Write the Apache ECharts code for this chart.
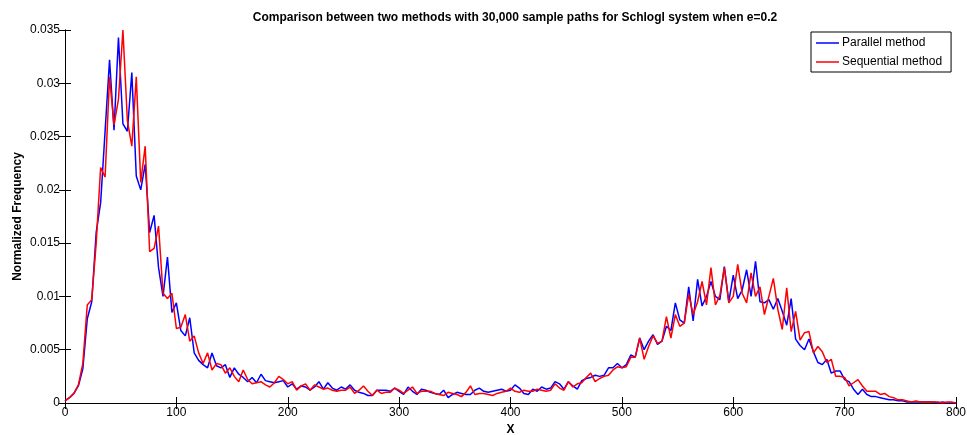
<!DOCTYPE html>
<html>
<head>
<meta charset="utf-8">
<script src="https://cdn.jsdelivr.net/npm/echarts@6/dist/echarts.min.js"></script>
<style>
  html, body { margin: 0; padding: 0; background: #fff; }
  #chart { width: 967px; height: 435px; }
</style>
</head>
<body>
<div id="chart"></div>
<script>
// Histogram bins: X = 0, 4, 8, ..., 800
const binStart = 0;
const binWidth = 4;

// Normalized frequency per bin, parallel method (blue)
const parallelFreq = [
  0.0002, 0.0005, 0.0009, 0.0016, 0.0032, 0.0079, 0.0095, 0.0160, 0.0188, 0.0255,
  0.0322, 0.0256, 0.0343, 0.0262, 0.0255, 0.0310, 0.0213, 0.0200, 0.0224, 0.0160,
  0.0176, 0.0127, 0.0100, 0.0137, 0.0085, 0.0094, 0.0068, 0.0063, 0.0080, 0.0047,
  0.0040, 0.0036, 0.0033, 0.0047, 0.0035, 0.0033, 0.0036, 0.0024, 0.0033, 0.0027,
  0.0024, 0.0020, 0.0024, 0.0019, 0.0027, 0.0021, 0.0020, 0.0019, 0.0020, 0.0021,
  0.0015, 0.0018, 0.0013, 0.0016, 0.0015, 0.0012, 0.0015, 0.0020, 0.0013, 0.0019,
  0.0014, 0.0012, 0.0015, 0.0013, 0.0017, 0.0012, 0.0010, 0.0009, 0.0007, 0.0007,
  0.0012, 0.0012, 0.0012, 0.0011, 0.0014, 0.0011, 0.0008, 0.0015, 0.0011, 0.0008,
  0.0013, 0.0012, 0.0010, 0.0009, 0.0008, 0.0012, 0.0005, 0.0008, 0.0010, 0.0009,
  0.0008, 0.0008, 0.0012, 0.0014, 0.0011, 0.0010, 0.0011, 0.0012, 0.0013, 0.0011,
  0.0012, 0.0017, 0.0014, 0.0009, 0.0008, 0.0013, 0.0011, 0.0015, 0.0013, 0.0014,
  0.0020, 0.0018, 0.0013, 0.0020, 0.0016, 0.0013, 0.0021, 0.0023, 0.0024, 0.0026,
  0.0025, 0.0026, 0.0033, 0.0033, 0.0037, 0.0033, 0.0036, 0.0045, 0.0043, 0.0061,
  0.0050, 0.0058, 0.0064, 0.0055, 0.0058, 0.0072, 0.0068, 0.0094, 0.0078, 0.0075,
  0.0109, 0.0077, 0.0116, 0.0091, 0.0100, 0.0114, 0.0100, 0.0097, 0.0128, 0.0095,
  0.0120, 0.0098, 0.0106, 0.0125, 0.0100, 0.0133, 0.0095, 0.0094, 0.0097, 0.0088,
  0.0098, 0.0086, 0.0073, 0.0098, 0.0060, 0.0054, 0.0050, 0.0060, 0.0048, 0.0038,
  0.0036, 0.0041, 0.0028, 0.0030, 0.0030, 0.0022, 0.0020, 0.0013, 0.0008, 0.0013,
  0.0008, 0.0006, 0.0006, 0.0005, 0.0004, 0.0003, 0.0003, 0.0002, 0.0002, 0.0001,
  0.0001, 0.0001, 0.0001, 0.0001, 0.0001, 0.0001, 0.0000, 0.0001, 0.0000, 0.0000,
  0.0000
];

// Normalized frequency per bin, sequential method (red)
const sequentialFreq = [
  0.0002, 0.0005, 0.0009, 0.0017, 0.0037, 0.0092, 0.0097, 0.0150, 0.0221, 0.0212,
  0.0306, 0.0261, 0.0285, 0.0350, 0.0265, 0.0241, 0.0306, 0.0207, 0.0241, 0.0142,
  0.0145, 0.0166, 0.0103, 0.0098, 0.0103, 0.0070, 0.0071, 0.0083, 0.0058, 0.0063,
  0.0047, 0.0037, 0.0047, 0.0031, 0.0037, 0.0036, 0.0028, 0.0033, 0.0025, 0.0020,
  0.0031, 0.0022, 0.0018, 0.0019, 0.0020, 0.0017, 0.0015, 0.0019, 0.0025, 0.0022,
  0.0018, 0.0020, 0.0012, 0.0016, 0.0018, 0.0012, 0.0017, 0.0015, 0.0013, 0.0014,
  0.0012, 0.0011, 0.0012, 0.0012, 0.0015, 0.0009, 0.0012, 0.0016, 0.0011, 0.0007,
  0.0012, 0.0009, 0.0010, 0.0010, 0.0014, 0.0012, 0.0009, 0.0012, 0.0015, 0.0009,
  0.0011, 0.0011, 0.0011, 0.0009, 0.0008, 0.0007, 0.0010, 0.0009, 0.0008, 0.0006,
  0.0010, 0.0016, 0.0008, 0.0009, 0.0009, 0.0008, 0.0007, 0.0009, 0.0010, 0.0011,
  0.0014, 0.0011, 0.0010, 0.0012, 0.0011, 0.0011, 0.0013, 0.0012, 0.0011, 0.0012,
  0.0018, 0.0014, 0.0012, 0.0020, 0.0015, 0.0018, 0.0019, 0.0024, 0.0028, 0.0020,
  0.0023, 0.0025, 0.0026, 0.0031, 0.0034, 0.0033, 0.0034, 0.0043, 0.0043, 0.0061,
  0.0041, 0.0053, 0.0063, 0.0056, 0.0058, 0.0081, 0.0061, 0.0083, 0.0072, 0.0075,
  0.0102, 0.0083, 0.0095, 0.0114, 0.0092, 0.0127, 0.0092, 0.0101, 0.0127, 0.0094,
  0.0100, 0.0130, 0.0103, 0.0094, 0.0122, 0.0100, 0.0109, 0.0083, 0.0100, 0.0117,
  0.0088, 0.0069, 0.0108, 0.0067, 0.0086, 0.0059, 0.0066, 0.0067, 0.0047, 0.0053,
  0.0048, 0.0038, 0.0041, 0.0025, 0.0025, 0.0024, 0.0016, 0.0019, 0.0022, 0.0016,
  0.0011, 0.0011, 0.0011, 0.0008, 0.0009, 0.0006, 0.0005, 0.0003, 0.0003, 0.0002,
  0.0001, 0.0002, 0.0001, 0.0001, 0.0001, 0.0001, 0.0001, 0.0000, 0.0001, 0.0001,
  0.0000
];

const seriesNames = ['Parallel method', 'Sequential method'];
const seriesColors = ['#0000ff', '#ff0000'];
const titleText = 'Comparison between two methods with 30,000 sample paths for Schlogl system when e=0.2';
const xTicks = { min: 0, max: 800, interval: 100 };
const yTicks = { min: 0, max: 0.035, interval: 0.005 };

const binCenters = parallelFreq.map((_, i) => binStart + i * binWidth);
const toPairs = (vals) => binCenters.map((x, i) => [x, vals[i]]);

const FONT = '"Liberation Sans", Arial, Helvetica, sans-serif';
const tickStyle = { inside: true, length: 6, lineStyle: { color: '#000', width: 1 } };
const lineAxis = { show: true, lineStyle: { color: '#000', width: 1 } };

const chart = echarts.init(document.getElementById('chart'), null, { renderer: 'canvas' });

chart.setOption({
  animation: false,
  backgroundColor: '#fff',
  title: {
    text: titleText,
    left: 510,
    top: 7,
    textAlign: 'center',
    textStyle: { fontFamily: FONT, fontSize: 12, fontWeight: 'bold', color: '#000' }
  },
  legend: {
    data: seriesNames.map((n) => ({ name: n, icon: 'rect' })),
    orient: 'vertical',
    left: 811,
    top: 32,
    padding: [4, 9, 3, 5],
    itemGap: 5,
    itemWidth: 23,
    itemHeight: 1.5,
    borderColor: '#000',
    borderWidth: 1,
    backgroundColor: '#fff',
    textStyle: { fontFamily: FONT, fontSize: 12, color: '#000', lineHeight: 14, padding: [0, 0, 0, -2] }
  },
  grid: { left: 65, right: 11, top: 30, bottom: 32, containLabel: false, outerBoundsMode: 'none' },
  xAxis: [
    {
      type: 'value', position: 'bottom',
      min: xTicks.min, max: xTicks.max, interval: xTicks.interval,
      name: 'X', nameLocation: 'middle', nameGap: 21, nameMoveOverlap: false,
      nameTextStyle: { fontFamily: FONT, fontSize: 12, fontWeight: 'bold', color: '#000' },
      axisLine: lineAxis, axisTick: tickStyle,
      axisLabel: { fontFamily: FONT, fontSize: 12, color: '#000', margin: 4 },
      splitLine: { show: false }
    },
    {
      type: 'value', position: 'top',
      min: xTicks.min, max: xTicks.max, interval: xTicks.interval,
      axisLine: lineAxis, axisTick: tickStyle,
      axisLabel: { show: false }, splitLine: { show: false }
    }
  ],
  yAxis: [
    {
      type: 'value', position: 'left',
      min: yTicks.min, max: yTicks.max, interval: yTicks.interval,
      name: 'Normalized Frequency', nameLocation: 'middle', nameGap: 41, nameRotate: 90,
      nameMoveOverlap: false,
      nameTextStyle: { fontFamily: FONT, fontSize: 12, fontWeight: 'bold', color: '#000' },
      axisLine: lineAxis, axisTick: tickStyle,
      axisLabel: {
        fontFamily: FONT, fontSize: 12, color: '#000', margin: 5,
        formatter: (v) => String(+v.toFixed(3))
      },
      splitLine: { show: false }
    },
    {
      type: 'value', position: 'right',
      min: yTicks.min, max: yTicks.max, interval: yTicks.interval,
      axisLine: lineAxis, axisTick: tickStyle,
      axisLabel: { show: false }, splitLine: { show: false }
    }
  ],
  series: [
    {
      name: seriesNames[0], type: 'line', xAxisIndex: 0, yAxisIndex: 0,
      data: toPairs(parallelFreq),
      symbol: 'none', smooth: false,
      lineStyle: { color: seriesColors[0], width: 1.5 },
      itemStyle: { color: seriesColors[0] }
    },
    {
      name: seriesNames[1], type: 'line', xAxisIndex: 0, yAxisIndex: 0,
      data: toPairs(sequentialFreq),
      symbol: 'none', smooth: false,
      lineStyle: { color: seriesColors[1], width: 1.5 },
      itemStyle: { color: seriesColors[1] }
    }
  ]
});
</script>
</body>
</html>
